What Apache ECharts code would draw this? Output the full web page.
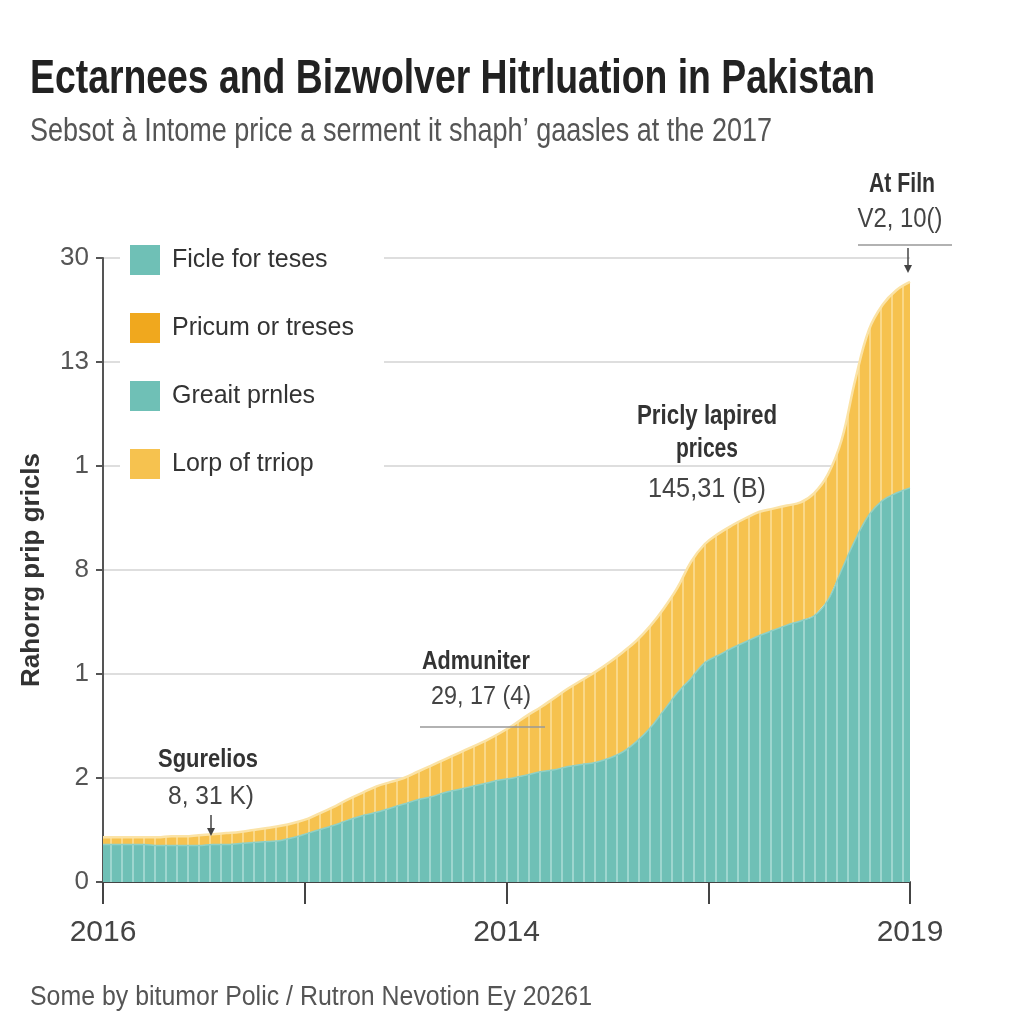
<!DOCTYPE html>
<html>
<head>
<meta charset="utf-8">
<script src="https://cdn.jsdelivr.net/npm/echarts@6/dist/echarts.min.js"></script>
<style>html,body{margin:0;padding:0;background:#fff}#c{width:1024px;height:1024px}</style>
</head>
<body>
<div id="c"></div>
<script>
// ---- data ----
const legendNames = ['Ficle for teses', 'Pricum or treses', 'Greait prnles', 'Lorp of trriop'];
const yTickLabels = ['0', '2', '1', '8', '1', '13', '30'];
const xTickLabels = ['2016', '', '2014', '', '2019'];
const tealValues = [0.36,0.36,0.36,0.36,0.35,0.35,0.35,0.35,0.36,0.36,
  0.37,0.38,0.39,0.40,0.43,0.47,0.51,0.55,0.60,0.64,
  0.67,0.71,0.75,0.79,0.82,0.86,0.89,0.92,0.95,0.98,
  1.00,1.03,1.06,1.08,1.11,1.13,1.15,1.19,1.25,1.35,
  1.48,1.65,1.82,1.96,2.11,2.18,2.25,2.31,2.37,2.42,
  2.47,2.51,2.56,2.71,3.00,3.29,3.53,3.67,3.74,3.79];
const yellowValues = [0.07,0.07,0.07,0.07,0.08,0.09,0.09,0.10,0.10,0.11,
  0.11,0.12,0.13,0.14,0.14,0.14,0.16,0.18,0.20,0.22,
  0.25,0.25,0.25,0.27,0.30,0.32,0.35,0.38,0.41,0.45,
  0.51,0.57,0.62,0.69,0.75,0.81,0.87,0.92,0.96,0.97,
  0.98,0.98,1.01,1.12,1.14,1.17,1.18,1.19,1.19,1.17,
  1.15,1.14,1.18,1.21,1.25,1.54,1.78,1.88,1.95,1.98];
const categories = tealValues.map((_, i) => 'P' + (i + 1));

// ---- text helpers ----
const mctx = document.createElement('canvas').getContext('2d');
const FF = '"Liberation Sans", Arial, sans-serif';
function txt(str, x, y, size, weight, fill, targetW, align) {
  const font = (weight || 'normal') + ' ' + size + 'px ' + FF;
  mctx.font = font;
  const w = mctx.measureText(str).width;
  return {
    type: 'text', x: x, y: y, scaleX: targetW / w, z: 100,
    style: { text: str, font: font, fill: fill, textAlign: align || 'center',
             textVerticalAlign: 'middle', verticalAlign: 'middle' }
  };
}
function line(x1, y1, x2, y2, c, w) {
  return { type: 'line', z: 100, shape: { x1, y1, x2, y2 }, style: { stroke: c, lineWidth: w } };
}
function arrowHead(x, y) {
  return { type: 'polygon', z: 100, shape: { points: [[x - 4, y - 8], [x + 4, y - 8], [x, y]] }, style: { fill: '#444' } };
}
// striped fill pattern
function stripes(base, stripe) {
  const c = document.createElement('canvas');
  c.width = 11; c.height = 8;
  const g = c.getContext('2d');
  g.fillStyle = base; g.fillRect(0, 0, 11, 8);
  g.fillStyle = stripe; g.fillRect(0, 0, 2, 8);
  return { image: c, repeat: 'repeat' };
}

const teal = '#6fc0b6', yellow = '#f6c24f';
const chart = echarts.init(document.getElementById('c'));
chart.setOption({
  backgroundColor: '#ffffff',
  animation: false,
  grid: { left: 103, right: 114, top: 258, bottom: 142 },
  legend: {
    orient: 'vertical', left: 120, top: 235, itemWidth: 30, itemHeight: 30, itemGap: 38,
    icon: 'rect', backgroundColor: '#ffffff', padding: [10, 30, 10, 10],
    data: legendNames,
    textStyle: { fontSize: 25, color: '#333', fontFamily: FF, padding: [0, 0, 0, 7] }
  },
  xAxis: [
    { type: 'category', data: categories, boundaryGap: false,
      axisLine: { lineStyle: { color: '#444', width: 2 } },
      axisTick: { show: false }, axisLabel: { show: false }, splitLine: { show: false } },
    { type: 'value', min: 0, max: 4, interval: 1, position: 'bottom',
      axisLine: { show: false },
      axisTick: { show: true, length: 22, lineStyle: { color: '#444', width: 2 } },
      axisLabel: { formatter: v => xTickLabels[Math.round(v)], fontSize: 30, color: '#444', margin: 36, fontFamily: FF },
      splitLine: { show: false } }
  ],
  yAxis: {
    type: 'value', min: 0, max: 6, interval: 1,
    name: 'Rahorrg prip gricls', nameLocation: 'middle', nameRotate: 90, nameGap: 58,
    nameTextStyle: { fontSize: 26, fontWeight: 'bold', color: '#333', fontFamily: FF },
    axisLine: { show: true, lineStyle: { color: '#555', width: 2 } },
    axisTick: { show: true, length: 7, lineStyle: { color: '#555', width: 2 } },
    axisLabel: { formatter: v => yTickLabels[Math.round(v)], fontSize: 26, color: '#555', margin: 14, fontFamily: FF },
    splitLine: { show: true, lineStyle: { color: '#d3d3d3', width: 1.5 } }
  },
  series: [
    { name: legendNames[0], type: 'line', stack: 'a', data: tealValues, smooth: 0.4, symbol: 'none',
      itemStyle: { color: teal },
      lineStyle: { color: '#8fd0c6', width: 1.5 },
      areaStyle: { color: stripes(teal, '#9ed6cf'), opacity: 1 } },
    { name: legendNames[1], type: 'line', stack: 'a', data: [], symbol: 'none', itemStyle: { color: '#f0a81e' } },
    { name: legendNames[2], type: 'line', stack: 'a', data: [], symbol: 'none', itemStyle: { color: teal } },
    { name: legendNames[3], type: 'line', stack: 'a', data: yellowValues, smooth: 0.4, symbol: 'none',
      itemStyle: { color: yellow },
      lineStyle: { color: '#fbe3a6', width: 2.5 },
      areaStyle: { color: stripes(yellow, '#fad888'), opacity: 1 } }
  ],
  graphic: [
    txt('Ectarnees and Bizwolver Hitrluation in Pakistan', 30, 80, 48, 'bold', '#222', 845, 'left'),
    txt('Sebsot à Intome price a serment it shaph\u2019 gaasles at the 2017', 30, 132, 34, 'normal', '#555', 742, 'left'),
    txt('At Filn', 902, 185, 27, 'bold', '#333', 66),
    txt('V2, 10()', 900, 220, 27, 'normal', '#444', 85),
    line(858, 245, 952, 245, '#999', 1.5),
    line(908, 248, 908, 266, '#444', 1.5), arrowHead(908, 273),
    txt('Pricly lapired', 707, 417, 27, 'bold', '#333', 140),
    txt('prices', 707, 450, 27, 'bold', '#333', 62),
    txt('145,31 (B)', 707, 490, 27, 'normal', '#444', 118),
    txt('Admuniter', 476, 662, 26, 'bold', '#333', 108),
    txt('29, 17 (4)', 481, 697, 26, 'normal', '#444', 100),
    line(420, 727, 545, 727, '#999', 1.5),
    txt('Sgurelios', 208, 760, 26, 'bold', '#333', 100),
    txt('8, 31 K)', 211, 797, 26, 'normal', '#444', 86),
    line(211, 815, 211, 829, '#444', 1.5), arrowHead(211, 836),
    txt('Some by bitumor Polic / Rutron Nevotion Ey 20261', 30, 998, 27, 'normal', '#555', 562, 'left')
  ]
});
</script>
</body>
</html>
